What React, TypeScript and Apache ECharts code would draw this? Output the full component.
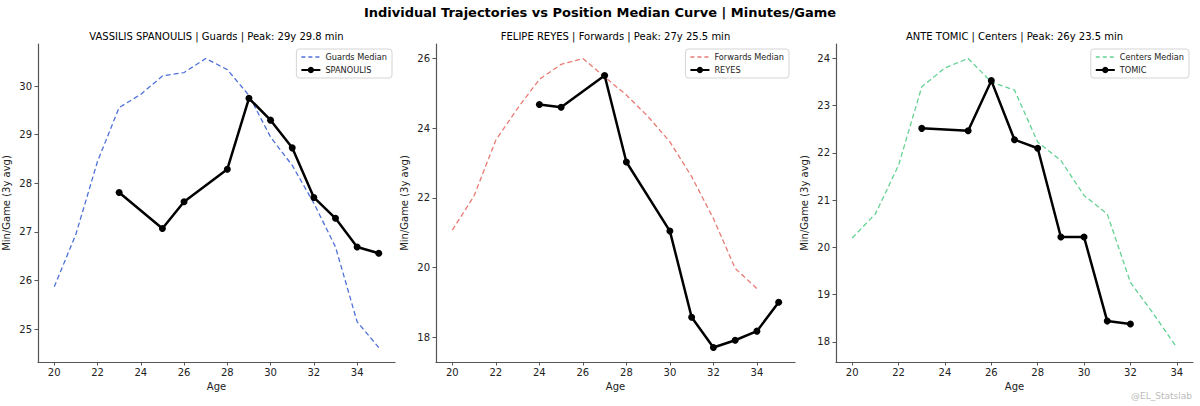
import React, { useEffect, useRef } from "react";
import * as echarts from "echarts";

const MAIN_TITLE = "Individual Trajectories vs Position Median Curve | Minutes/Game";
const PANEL_TITLES = [
  "VASSILIS SPANOULIS | Guards | Peak: 29y 29.8 min",
  "FELIPE REYES | Forwards | Peak: 27y 25.5 min",
  "ANTE TOMIC | Centers | Peak: 26y 23.5 min",
];
const MEDIAN_NAMES = ["Guards Median", "Forwards Median", "Centers Median"];
const PLAYER_NAMES = ["SPANOULIS", "REYES", "TOMIC"];
const MEDIAN_COLORS = ["#4f72d9", "#e87b74", "#62d293"];

const GUARDS_AGES = [20, 21, 22, 23, 24, 25, 26, 27, 28, 29, 30, 31, 32, 33, 34, 35];
const GUARDS_MEDIAN = [25.87, 26.95, 28.45, 29.56, 29.83, 30.21, 30.28, 30.57, 30.34, 29.81, 28.95, 28.37, 27.59, 26.69, 25.15, 24.62];
const SPANOULIS_AGES = [23, 25, 26, 28, 29, 30, 31, 32, 33, 34, 35];
const SPANOULIS_MIN = [27.81, 27.07, 27.62, 28.29, 29.75, 29.3, 28.73, 27.71, 27.28, 26.69, 26.56];

const FORWARDS_AGES = [20, 21, 22, 23, 24, 25, 26, 27, 28, 29, 30, 31, 32, 33, 34];
const FORWARDS_MEDIAN = [21.08, 22.06, 23.66, 24.57, 25.4, 25.83, 26.0, 25.47, 24.95, 24.33, 23.61, 22.61, 21.41, 19.98, 19.4];
const REYES_AGES = [24, 25, 27, 28, 30, 31, 32, 33, 34, 35];
const REYES_MIN = [24.68, 24.6, 25.51, 23.03, 21.05, 18.58, 17.71, 17.92, 18.18, 19.01];

const CENTERS_AGES = [20, 21, 22, 23, 24, 25, 26, 27, 28, 29, 30, 31, 32, 33, 34];
const CENTERS_MEDIAN = [20.2, 20.71, 21.74, 23.4, 23.8, 24.0, 23.5, 23.33, 22.23, 21.84, 21.1, 20.71, 19.26, 18.59, 17.88];
const TOMIC_AGES = [23, 25, 26, 27, 28, 29, 30, 31, 32];
const TOMIC_MIN = [22.52, 22.47, 23.53, 22.28, 22.1, 20.22, 20.22, 18.44, 18.38];

const X_TICKS = [
  [20, 22, 24, 26, 28, 30, 32, 34],
  [20, 22, 24, 26, 28, 30, 32, 34],
  [20, 22, 24, 26, 28, 30, 32, 34],
];
const Y_TICKS = [
  [25, 26, 27, 28, 29, 30],
  [18, 20, 22, 24, 26],
  [18, 19, 20, 21, 22, 23, 24],
];

const WATERMARK = "@EL_Statslab";
const FONT = "DejaVu Sans";
const DASH_ICON = "path://M0,0 M19,8 M0,3.3h4v1.4h-4z M7,3.3h4v1.4h-4z M14,3.3h4v1.4h-4z";

const zip = (xs: number[], ys: number[]) => xs.map((x, i) => [x, ys[i]]);

function extent(arrs: number[][]) {
  const all = arrs.flat();
  const lo = Math.min(...all);
  const hi = Math.max(...all);
  const pad = (hi - lo) * 0.05;
  return [lo - pad, hi + pad];
}

export default function App() {
  const ref = useRef<HTMLDivElement>(null);
  useEffect(() => {
    if (!ref.current) return;
    const chart = echarts.init(ref.current, undefined, { renderer: "svg" });

    const panels = [
      { mAges: GUARDS_AGES, mVals: GUARDS_MEDIAN, pAges: SPANOULIS_AGES, pVals: SPANOULIS_MIN },
      { mAges: FORWARDS_AGES, mVals: FORWARDS_MEDIAN, pAges: REYES_AGES, pVals: REYES_MIN },
      { mAges: CENTERS_AGES, mVals: CENTERS_MEDIAN, pAges: TOMIC_AGES, pVals: TOMIC_MIN },
    ];
    const gridBoxes = [
      { left: 38, width: 357 },
      { left: 436, width: 359 },
      { left: 836, width: 357 },
    ];
    const TOP = 44;
    const HEIGHT = 318;

    const grids = gridBoxes.map((g) => ({ left: g.left, width: g.width, top: TOP, height: HEIGHT }));
    const axisLine = { show: true, lineStyle: { color: "#555", width: 1.2 } };
    const xAxes = panels.map((p, i) => {
      const [lo, hi] = extent([p.mAges, p.pAges]);
      return {
        type: "value",
        gridIndex: i,
        min: lo,
        max: hi,
        name: "Age",
        nameLocation: "middle",
        nameGap: 17,
        nameTextStyle: { fontFamily: FONT, fontSize: 10, color: "#222" },
        axisLine,
        axisTick: { show: true, length: 3.5, lineStyle: { color: "#555" }, customValues: X_TICKS[i] },
        axisLabel: { fontFamily: FONT, fontSize: 10, color: "#222", margin: 5, customValues: X_TICKS[i] },
        splitLine: { show: false },
      };
    });
    const yAxes = panels.map((p, i) => {
      const [lo, hi] = extent([p.mVals, p.pVals]);
      return {
        type: "value",
        gridIndex: i,
        min: lo,
        max: hi,
        name: "Min/Game (3y avg)",
        nameLocation: "middle",
        nameGap: 27,
        nameTextStyle: { fontFamily: FONT, fontSize: 10, color: "#222" },
        axisLine,
        axisTick: { show: true, length: 3.5, lineStyle: { color: "#555" }, customValues: Y_TICKS[i] },
        axisLabel: { fontFamily: FONT, fontSize: 10, color: "#222", margin: 6, customValues: Y_TICKS[i] },
        splitLine: { show: false },
      };
    });

    const series: any[] = [];
    panels.forEach((p, i) => {
      series.push({
        type: "line",
        name: MEDIAN_NAMES[i],
        xAxisIndex: i,
        yAxisIndex: i,
        data: zip(p.mAges, p.mVals),
        symbol: "none",
        lineStyle: { color: MEDIAN_COLORS[i], width: 1.3, type: [5, 3] },
        itemStyle: { color: MEDIAN_COLORS[i] },
        z: 2,
      });
      series.push({
        type: "line",
        name: PLAYER_NAMES[i],
        xAxisIndex: i,
        yAxisIndex: i,
        data: zip(p.pAges, p.pVals),
        symbol: "circle",
        symbolSize: 7,
        showSymbol: true,
        lineStyle: { color: "#000", width: 2.5 },
        itemStyle: { color: "#000" },
        z: 3,
      });
    });

    const legendRights = [1200 - 392, 1200 - 789, 1200 - 1189];
    const legends = panels.map((_, i) => ({
      data: [
        { name: MEDIAN_NAMES[i], icon: DASH_ICON, itemStyle: { color: MEDIAN_COLORS[i] } },
        { name: PLAYER_NAMES[i] },
      ],
      orient: "vertical",
      right: legendRights[i],
      top: 49,
      itemWidth: 19,
      itemHeight: 8,
      itemGap: 5,
      padding: [4, 5, 4, 4],
      borderColor: "#d5d5d5",
      borderWidth: 1,
      borderRadius: 3,
      backgroundColor: "rgba(255,255,255,0.8)",
      textStyle: { fontFamily: FONT, fontSize: 8.2, color: "#222" },
      selectedMode: false,
    }));

    const graphic: any[] = [
      {
        type: "text",
        x: 600,
        y: 12,
        style: {
          text: MAIN_TITLE,
          fill: "#000",
          font: `bold 13px "${FONT}"`,
          textAlign: "center",
          textVerticalAlign: "middle",
        },
      },
      ...PANEL_TITLES.map((t, i) => ({
        type: "text",
        x: gridBoxes[i].left + gridBoxes[i].width / 2,
        y: 36,
        style: {
          text: t,
          fill: "#000",
          font: `10px "${FONT}"`,
          textAlign: "center",
          textVerticalAlign: "middle",
        },
      })),
      {
        type: "text",
        x: 1192,
        y: 396,
        style: {
          text: WATERMARK,
          fill: "#bbbbbb",
          font: `9px "${FONT}"`,
          textAlign: "right",
          textVerticalAlign: "middle",
        },
      },
    ];

    chart.setOption({
      animation: false,
      backgroundColor: "#fff",
      textStyle: { fontFamily: FONT },
      grid: grids,
      xAxis: xAxes,
      yAxis: yAxes,
      legend: legends,
      series,
      graphic,
    });
    return () => chart.dispose();
  }, []);

  return (
    <div
      ref={ref}
      style={{ position: "fixed", left: 0, top: 0, width: 1200, height: 406, background: "#fff" }}
    />
  );
}
